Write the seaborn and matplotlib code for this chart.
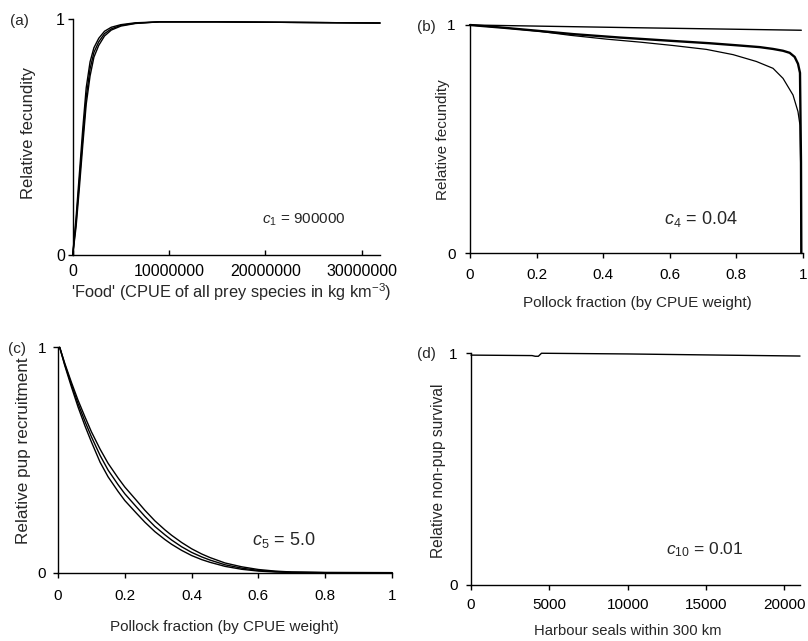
import matplotlib
matplotlib.use("Agg")
import pandas as pd
import matplotlib.pyplot as plt
import seaborn as sns

# -----------------------------
# Data
# -----------------------------
# (a) relative fecundity vs food (x in kg km-3)
food_x = [0, 0.35e6, 0.7e6, 1.05e6, 1.4e6, 1.8e6, 2.2e6, 2.7e6, 3.3e6, 4.0e6,
          5.0e6, 6.5e6, 9.0e6, 15.0e6, 31.9e6]
fec_a1 = [0, 0.16, 0.35, 0.54, 0.71, 0.82, 0.88, 0.92, 0.95, 0.967,
          0.978, 0.986, 0.99, 0.99, 0.985]
fec_a2 = [0, 0.14, 0.32, 0.50, 0.67, 0.79, 0.86, 0.905, 0.94, 0.96,
          0.975, 0.984, 0.99, 0.99, 0.985]
fec_a3 = [0, 0.12, 0.29, 0.47, 0.64, 0.76, 0.84, 0.89, 0.93, 0.955,
          0.972, 0.983, 0.99, 0.99, 0.985]

# (b) relative fecundity vs pollock fraction
pol_flat_x = [0, 0.5, 0.995]
fec_flat = [1.0, 0.988, 0.977]
pol_thick_x = [0, 0.1, 0.2, 0.31, 0.45, 0.61, 0.72, 0.81, 0.87, 0.91, 0.94,
               0.96, 0.975, 0.985, 0.991, 0.994, 0.995]
fec_thick = [1.0, 0.988, 0.975, 0.96, 0.945, 0.93, 0.92, 0.91, 0.903, 0.895,
             0.887, 0.878, 0.86, 0.83, 0.79, 0.4, 0.0]
pol_thin_x = [0, 0.1, 0.21, 0.3, 0.41, 0.51, 0.61, 0.71, 0.79, 0.86, 0.91,
              0.94, 0.97, 0.985, 0.991, 0.994, 0.995]
fec_thin = [1.0, 0.988, 0.972, 0.955, 0.938, 0.925, 0.91, 0.893, 0.87, 0.84,
            0.81, 0.766, 0.693, 0.62, 0.56, 0.3, 0.0]

# (c) relative pup recruitment vs pollock fraction
rec_x = [0.005, 0.02, 0.04, 0.06, 0.081, 0.1, 0.126, 0.15, 0.18, 0.2, 0.234,
         0.26, 0.29, 0.32, 0.34, 0.37, 0.40, 0.43, 0.455, 0.5, 0.55, 0.6,
         0.65, 0.7, 0.8, 1.0]
rec_low = [1.0, 0.92, 0.825, 0.735, 0.65, 0.58, 0.49, 0.425, 0.36, 0.32, 0.265,
           0.224, 0.182, 0.147, 0.126, 0.099, 0.076, 0.058, 0.046, 0.028,
           0.015, 0.007, 0.003, 0.001, 0.0, 0.0]
rec_mid = [1.0, 0.925, 0.835, 0.75, 0.67, 0.603, 0.52, 0.455, 0.39, 0.35, 0.293,
           0.25, 0.205, 0.168, 0.145, 0.115, 0.09, 0.07, 0.056, 0.035,
           0.02, 0.01, 0.005, 0.002, 0.0, 0.0]
rec_up = [1.0, 0.93, 0.845, 0.765, 0.69, 0.625, 0.548, 0.485, 0.42, 0.38, 0.322,
          0.277, 0.23, 0.19, 0.166, 0.134, 0.106, 0.083, 0.067, 0.043,
          0.026, 0.014, 0.007, 0.003, 0.001, 0.0]

# (d) relative non-pup survival vs harbour seals
seals_x = [0, 3900, 4100, 4300, 4500, 10000, 16000, 21000]
surv = [0.992, 0.99, 0.987, 0.987, 1.0, 0.997, 0.992, 0.988]

# tick labels
food_ticks = [0, 1e7, 2e7, 3e7]
food_labels = ["0", "10000000", "20000000", "30000000"]
frac_ticks = [0, 0.2, 0.4, 0.6, 0.8, 1.0]
frac_labels = ["0", "0.2", "0.4", "0.6", "0.8", "1"]
seal_ticks = [0, 5000, 10000, 15000, 20000]
seal_labels = ["0", "5000", "10000", "15000", "20000"]

# -----------------------------
# Style
# -----------------------------
sns.set_theme(style="ticks")
plt.rcParams["font.family"] = ["Liberation Sans", "DejaVu Sans"]
plt.rcParams["mathtext.fontset"] = "custom"
plt.rcParams["mathtext.rm"] = "Liberation Sans"
plt.rcParams["mathtext.it"] = "Liberation Sans:italic"
plt.rcParams["axes.linewidth"] = 1.0
plt.rcParams["axes.edgecolor"] = "black"

fig = plt.figure(figsize=(8.08, 6.41), dpi=100)
fig.patch.set_facecolor("white")


def draw(ax, x, y, lw=1.0):
    sns.lineplot(x=x, y=y, ax=ax, color="black", linewidth=lw,
                 estimator=None, sort=False)


def style_axis(ax, xlim, xticks, xlabels, xdir, xpad, ypad, tsize=11):
    ax.set_xlim(*xlim)
    ax.set_ylim(0, 1)
    ax.set_xticks(xticks, xlabels)
    ax.set_yticks([0, 1], ["0", "1"])
    sns.despine(ax=ax)
    ax.tick_params(axis="x", direction=xdir, length=3.5, width=1,
                   pad=xpad, labelsize=tsize, colors="black")
    ax.tick_params(axis="y", direction="out", length=3.5, width=1,
                   pad=ypad, labelsize=tsize, colors="black")
    for ln in ax.lines:
        ln.set_clip_on(False)
    ax.set_facecolor("white")


# (a)
ax_a = fig.add_axes([0.0900, 0.6022, 0.3803, 0.3674])
for ys in [fec_a1, fec_a2, fec_a3]:
    draw(ax_a, food_x, ys, lw=1.0)
style_axis(ax_a, (0, 3.19e7), food_ticks, food_labels, "in", 6.5, 2, tsize=11.5)
ax_a.set_xlabel("'Food' (CPUE of all prey species in kg km$^{-3}$)",
                fontsize=11.8, va="center")
ax_a.set_ylabel("Relative fecundity", fontsize=12, va="center")
ax_a.xaxis.set_label_coords(0.515, -0.157)
ax_a.yaxis.set_label_coords(-0.145, 0.518)
ax_a.text(0.753, 0.149, "$c_1$ = 900000", transform=ax_a.transAxes,
          ha="center", va="center", fontsize=11)

# (b)
ax_b = fig.add_axes([0.5817, 0.6053, 0.4121, 0.3557])
draw(ax_b, pol_flat_x, fec_flat, lw=1.0)
draw(ax_b, pol_thick_x, fec_thick, lw=1.7)
draw(ax_b, pol_thin_x, fec_thin, lw=0.9)
style_axis(ax_b, (0, 1), frac_ticks, frac_labels, "out", 7.6, 7)
ax_b.set_xlabel("Pollock fraction (by CPUE weight)", fontsize=11, va="center")
ax_b.set_ylabel("Relative fecundity", fontsize=11, va="center")
ax_b.xaxis.set_label_coords(0.503, -0.219)
ax_b.yaxis.set_label_coords(-0.081, 0.496)
ax_b.text(0.694, 0.149, "$c_4$ = 0.04", transform=ax_b.transAxes,
          ha="center", va="center", fontsize=13)

# (c)
ax_c = fig.add_axes([0.0718, 0.1066, 0.4134, 0.3516])
for ys in [rec_low, rec_mid, rec_up]:
    draw(ax_c, rec_x, ys, lw=1.0)
style_axis(ax_c, (0, 1), frac_ticks, frac_labels, "out", 8.6, 5)
ax_c.set_xlabel("Pollock fraction (by CPUE weight)", fontsize=11, va="center")
ax_c.set_ylabel("Relative pup recruitment", fontsize=12.3, va="center")
ax_c.xaxis.set_label_coords(0.497, -0.24)
ax_c.yaxis.set_label_coords(-0.102, 0.541)
ax_c.text(0.677, 0.145, "$c_5$ = 5.0", transform=ax_c.transAxes,
          ha="center", va="center", fontsize=13)

# (d)
ax_d = fig.add_axes([0.5829, 0.0874, 0.4072, 0.3615])
draw(ax_d, seals_x, surv, lw=1.0)
style_axis(ax_d, (0, 21000), seal_ticks, seal_labels, "out", 6, 6)
ax_d.set_xlabel("Harbour seals within 300 km", fontsize=10.6, va="center")
ax_d.set_ylabel("Relative non-pup survival", fontsize=11.2, va="center")
ax_d.xaxis.set_label_coords(0.477, -0.2)
ax_d.yaxis.set_label_coords(-0.10, 0.493)
ax_d.text(0.711, 0.151, "$c_{10}$ = 0.01", transform=ax_d.transAxes,
          ha="center", va="center", fontsize=12.5)

# panel letters
for lab, px, py in [("(a)", 0.0235, 0.9665), ("(b)", 0.528, 0.958),
                    ("(c)", 0.0207, 0.4555), ("(d)", 0.528, 0.4477)]:
    fig.text(px, py, lab, ha="center", va="center", fontsize=11)

fig.savefig("out.png", dpi=100, facecolor="white")
